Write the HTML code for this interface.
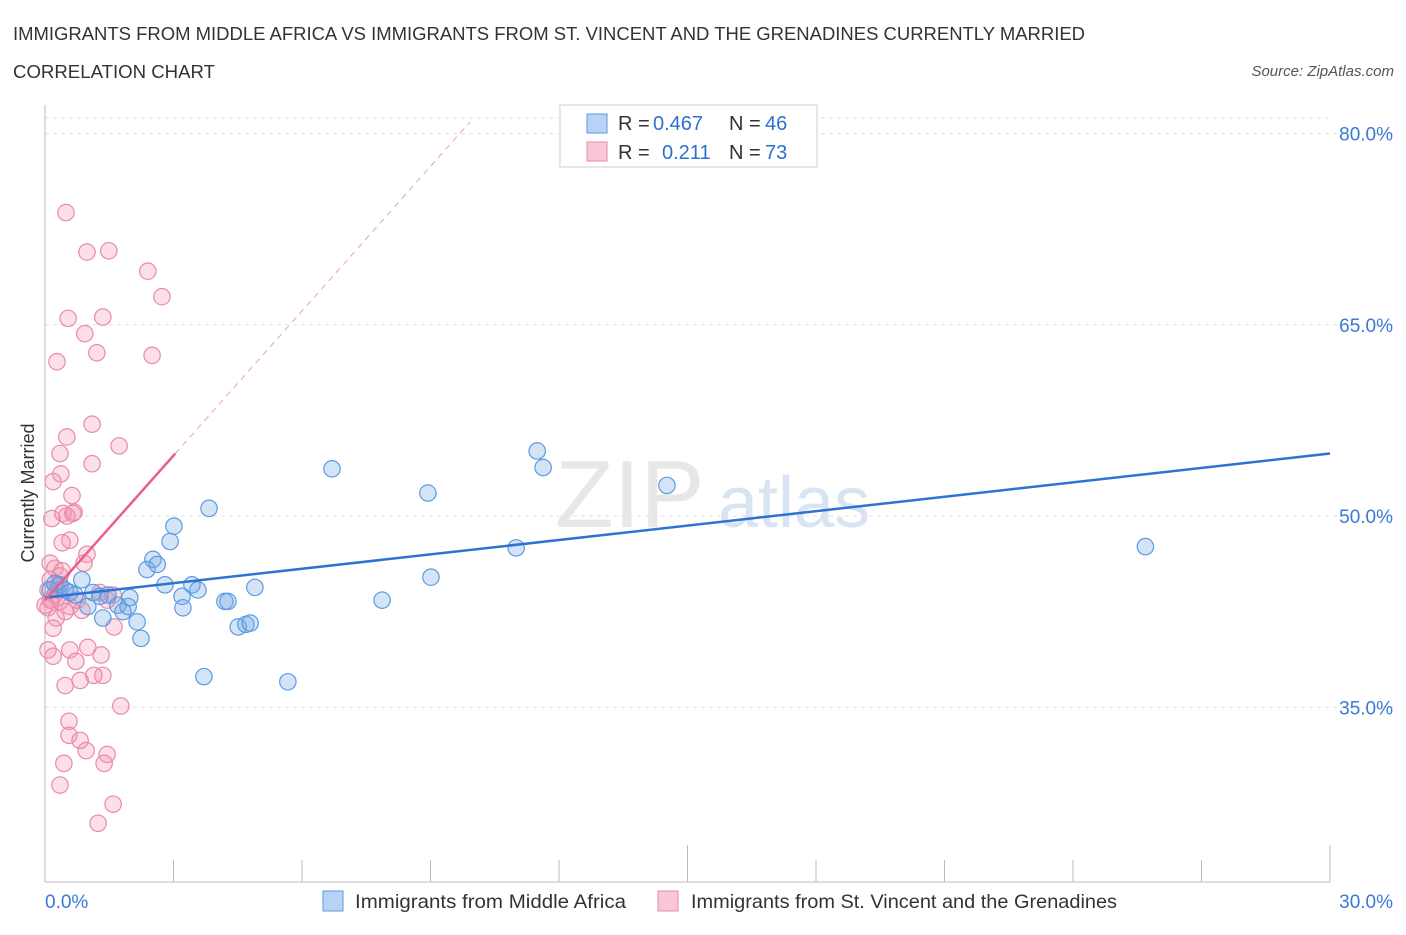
<!DOCTYPE html>
<html><head><meta charset="utf-8"><style>
body{margin:0;background:#fff;font-family:"Liberation Sans",sans-serif;}
svg text{font-family:"Liberation Sans",sans-serif;}
</style></head><body>
<svg width="1406" height="930" viewBox="0 0 1406 930" xmlns="http://www.w3.org/2000/svg">
<text x="13" y="40" font-size="18.4" fill="#333" textLength="1072" lengthAdjust="spacingAndGlyphs">IMMIGRANTS FROM MIDDLE AFRICA VS IMMIGRANTS FROM ST. VINCENT AND THE GRENADINES CURRENTLY MARRIED</text>
<text x="13" y="78" font-size="18.4" fill="#333" textLength="202" lengthAdjust="spacingAndGlyphs">CORRELATION CHART</text>
<text x="1394" y="76" font-size="15" fill="#555" font-style="italic" text-anchor="end">Source: ZipAtlas.com</text>
<text x="555" y="527" font-size="96" fill="#ddd" font-family="Liberation Serif" opacity="0.7">ZIP</text>
<text x="718" y="527" font-size="72" fill="#c8daf0" opacity="0.7">atlas</text>
<g id="grid"></g>
<g id="axes"></g>
<g id="marks"></g>
<text transform="translate(34,493) rotate(-90)" font-size="18" fill="#333" text-anchor="middle">Currently Married</text>
<g>
<rect x="560" y="105" width="257" height="62" fill="#fff" stroke="#ccc"/>
<rect x="587" y="114" width="20" height="19" fill="#b8d3f5" stroke="#5b9be0"/>
<text x="618" y="130" font-size="20" fill="#333">R =</text>
<text x="653" y="130" font-size="20" fill="#2f6fcf">0.467</text>
<text x="729" y="130" font-size="20" fill="#333">N =</text>
<text x="765" y="130" font-size="20" fill="#2f6fcf">46</text>
<rect x="587" y="142" width="20" height="19" fill="#f9c8d6" stroke="#e88aa8"/>
<text x="618" y="159" font-size="20" fill="#333">R =</text>
<text x="662" y="159" font-size="20" fill="#2f6fcf">0.211</text>
<text x="729" y="159" font-size="20" fill="#333">N =</text>
<text x="765" y="159" font-size="20" fill="#2f6fcf">73</text>
</g>
<g>
<rect x="323" y="891" width="20" height="20" fill="#b8d3f5" stroke="#5b9be0"/>
<text x="355" y="908" font-size="19.5" fill="#333" textLength="271" lengthAdjust="spacingAndGlyphs">Immigrants from Middle Africa</text>
<rect x="658" y="891" width="20" height="20" fill="#f9c8d6" stroke="#e88aa8"/>
<text x="691" y="908" font-size="19.5" fill="#333" textLength="426" lengthAdjust="spacingAndGlyphs">Immigrants from St. Vincent and the Grenadines</text>
</g>
</svg>
<script>
const yTicks=[35,50,65,80];
const yTickLabels=["35.0%","50.0%","65.0%","80.0%"];
const xTickLabels=["0.0%","30.0%"];
const blueX=[0.35,0.12,0.47,0.58,0.86,0.70,1.00,1.12,1.28,1.47,1.35,1.70,1.82,1.94,1.98,2.15,2.24,2.38,2.52,2.62,2.80,2.92,3.01,3.20,3.22,3.43,3.57,3.71,3.83,4.20,4.27,4.51,4.69,4.79,4.90,5.67,6.70,7.87,8.94,9.01,11.00,11.49,11.63,14.52,25.69,0.23];
const blueY=[44.6,44.2,44.2,44.0,45.0,43.8,42.9,44.0,43.7,43.8,42.0,43.0,42.5,42.9,43.6,41.7,40.4,45.8,46.6,46.2,44.6,48.0,49.2,43.7,42.8,44.6,44.2,37.4,50.6,43.3,43.3,41.3,41.5,41.6,44.4,37.0,53.7,43.4,51.8,45.2,47.5,55.1,53.8,52.4,47.6,44.7];
const pinkX=[0.49,0.98,1.49,2.40,2.73,0.54,1.35,0.93,1.21,2.50,0.28,1.10,0.51,1.73,0.35,0.19,1.10,0.37,0.63,0.16,0.42,0.65,0.51,0.68,0.58,0.40,0.98,0.91,0.12,0.23,0.40,0.35,0.12,0.30,0.07,0.23,0.16,0.35,0.58,0.07,0.47,0.26,0.19,1.28,1.59,1.45,1.61,0.75,0.86,0.07,0.19,0.58,1.00,1.31,0.72,1.35,1.14,0.82,0.47,1.77,0.56,0.56,0.82,0.96,1.45,1.38,0.44,0.35,1.59,1.24,0.12,0.00,0.30];
const pinkY=[73.8,70.7,70.8,69.2,67.2,65.5,65.6,64.3,62.8,62.6,62.1,57.2,56.2,55.5,54.9,52.7,54.1,53.3,51.6,49.8,50.2,50.2,50.0,50.3,48.1,47.9,47.0,46.3,46.3,45.9,45.7,45.3,45.0,44.6,44.2,43.8,43.4,43.3,42.9,42.8,42.5,42.0,41.2,44.0,43.8,43.4,41.3,43.4,42.6,39.5,39.0,39.5,39.7,39.1,38.6,37.5,37.5,37.1,36.7,35.1,33.9,32.8,32.4,31.6,31.3,30.6,30.6,28.9,27.4,25.9,43.4,43.0,44.2];
const blueTrend=[43.6,54.9];
const pinkTrend=[43.4,3.78];
const NS="http://www.w3.org/2000/svg";
const X0=45,X1=1330,Y50=516,PPY=12.75;
const xs=v=>X0+(v/30)*(X1-X0);
const ys=v=>Y50-(v-50)*PPY;
function mk(tag,attrs,parent){const e=document.createElementNS(NS,tag);for(const k in attrs)e.setAttribute(k,attrs[k]);parent.appendChild(e);return e;}
const grid=document.getElementById('grid'),axes=document.getElementById('axes'),marks=document.getElementById('marks');
mk('line',{x1:X0,x2:1330,y1:118,y2:118,stroke:'#e2e2e2','stroke-dasharray':'4,4'},grid);
yTicks.forEach((t,i)=>{
  const g=mk('line',{x1:X0,x2:1395,y1:ys(t),y2:ys(t),stroke:'#e2e2e2','stroke-dasharray':'4,4'},grid);
  
  
  const tx=mk('text',{x:1393,y:ys(t)+7,'font-size':19,fill:'#3b78d8','text-anchor':'end'},axes);
  tx.textContent=yTickLabels[i];
  
  
});
const xa=mk('line',{x1:X0,x2:1330,y1:882,y2:882,stroke:'#bbb'},axes);


const ya=mk('line',{x1:X0,x2:X0,y1:105,y2:882,stroke:'#bbb'},axes);


for(let i=1;i<=10;i++){
  const t=mk('line',{x1:xs(i*3),x2:xs(i*3),y1:(i==5||i==10)?845:860,y2:882,stroke:'#bbb'},axes);
  
  
}
[[0,'start',45],[30,'end',1393]].forEach((d,i)=>{
  const t=mk('text',{x:d[2],y:908,'font-size':19,fill:'#3b78d8','text-anchor':d[1]},axes);
  t.textContent=xTickLabels[i];
  
  
});
pinkX.forEach((x,i)=>{
  const c=mk('circle',{cx:xs(x),cy:ys(pinkY[i]),r:8.2,fill:'rgba(244,150,180,0.3)',stroke:'#e88aa8','stroke-width':1.2},marks);
  
  
});
blueX.forEach((x,i)=>{
  const c=mk('circle',{cx:xs(x),cy:ys(blueY[i]),r:8.2,fill:'rgba(110,165,230,0.3)',stroke:'#5b9be0','stroke-width':1.2},marks);
  
  
});
const bl=mk('line',{x1:xs(0),y1:ys(blueTrend[0]),x2:xs(30),y2:ys(blueTrend[1]),stroke:'#2e72d2','stroke-width':2.5},marks);


const pAt=x=>pinkTrend[0]+pinkTrend[1]*x;
const pl=mk('line',{x1:xs(0),y1:ys(pAt(0)),x2:xs(3.04),y2:ys(pAt(3.04)),stroke:'#e8608a','stroke-width':2.5},marks);


const pd=mk('line',{x1:xs(3.04),y1:ys(pAt(3.04)),x2:xs(9.92),y2:ys(pAt(9.92)),stroke:'#eaa0b8','stroke-width':1,'stroke-dasharray':'6,5'},marks);


</script>
</body></html>
